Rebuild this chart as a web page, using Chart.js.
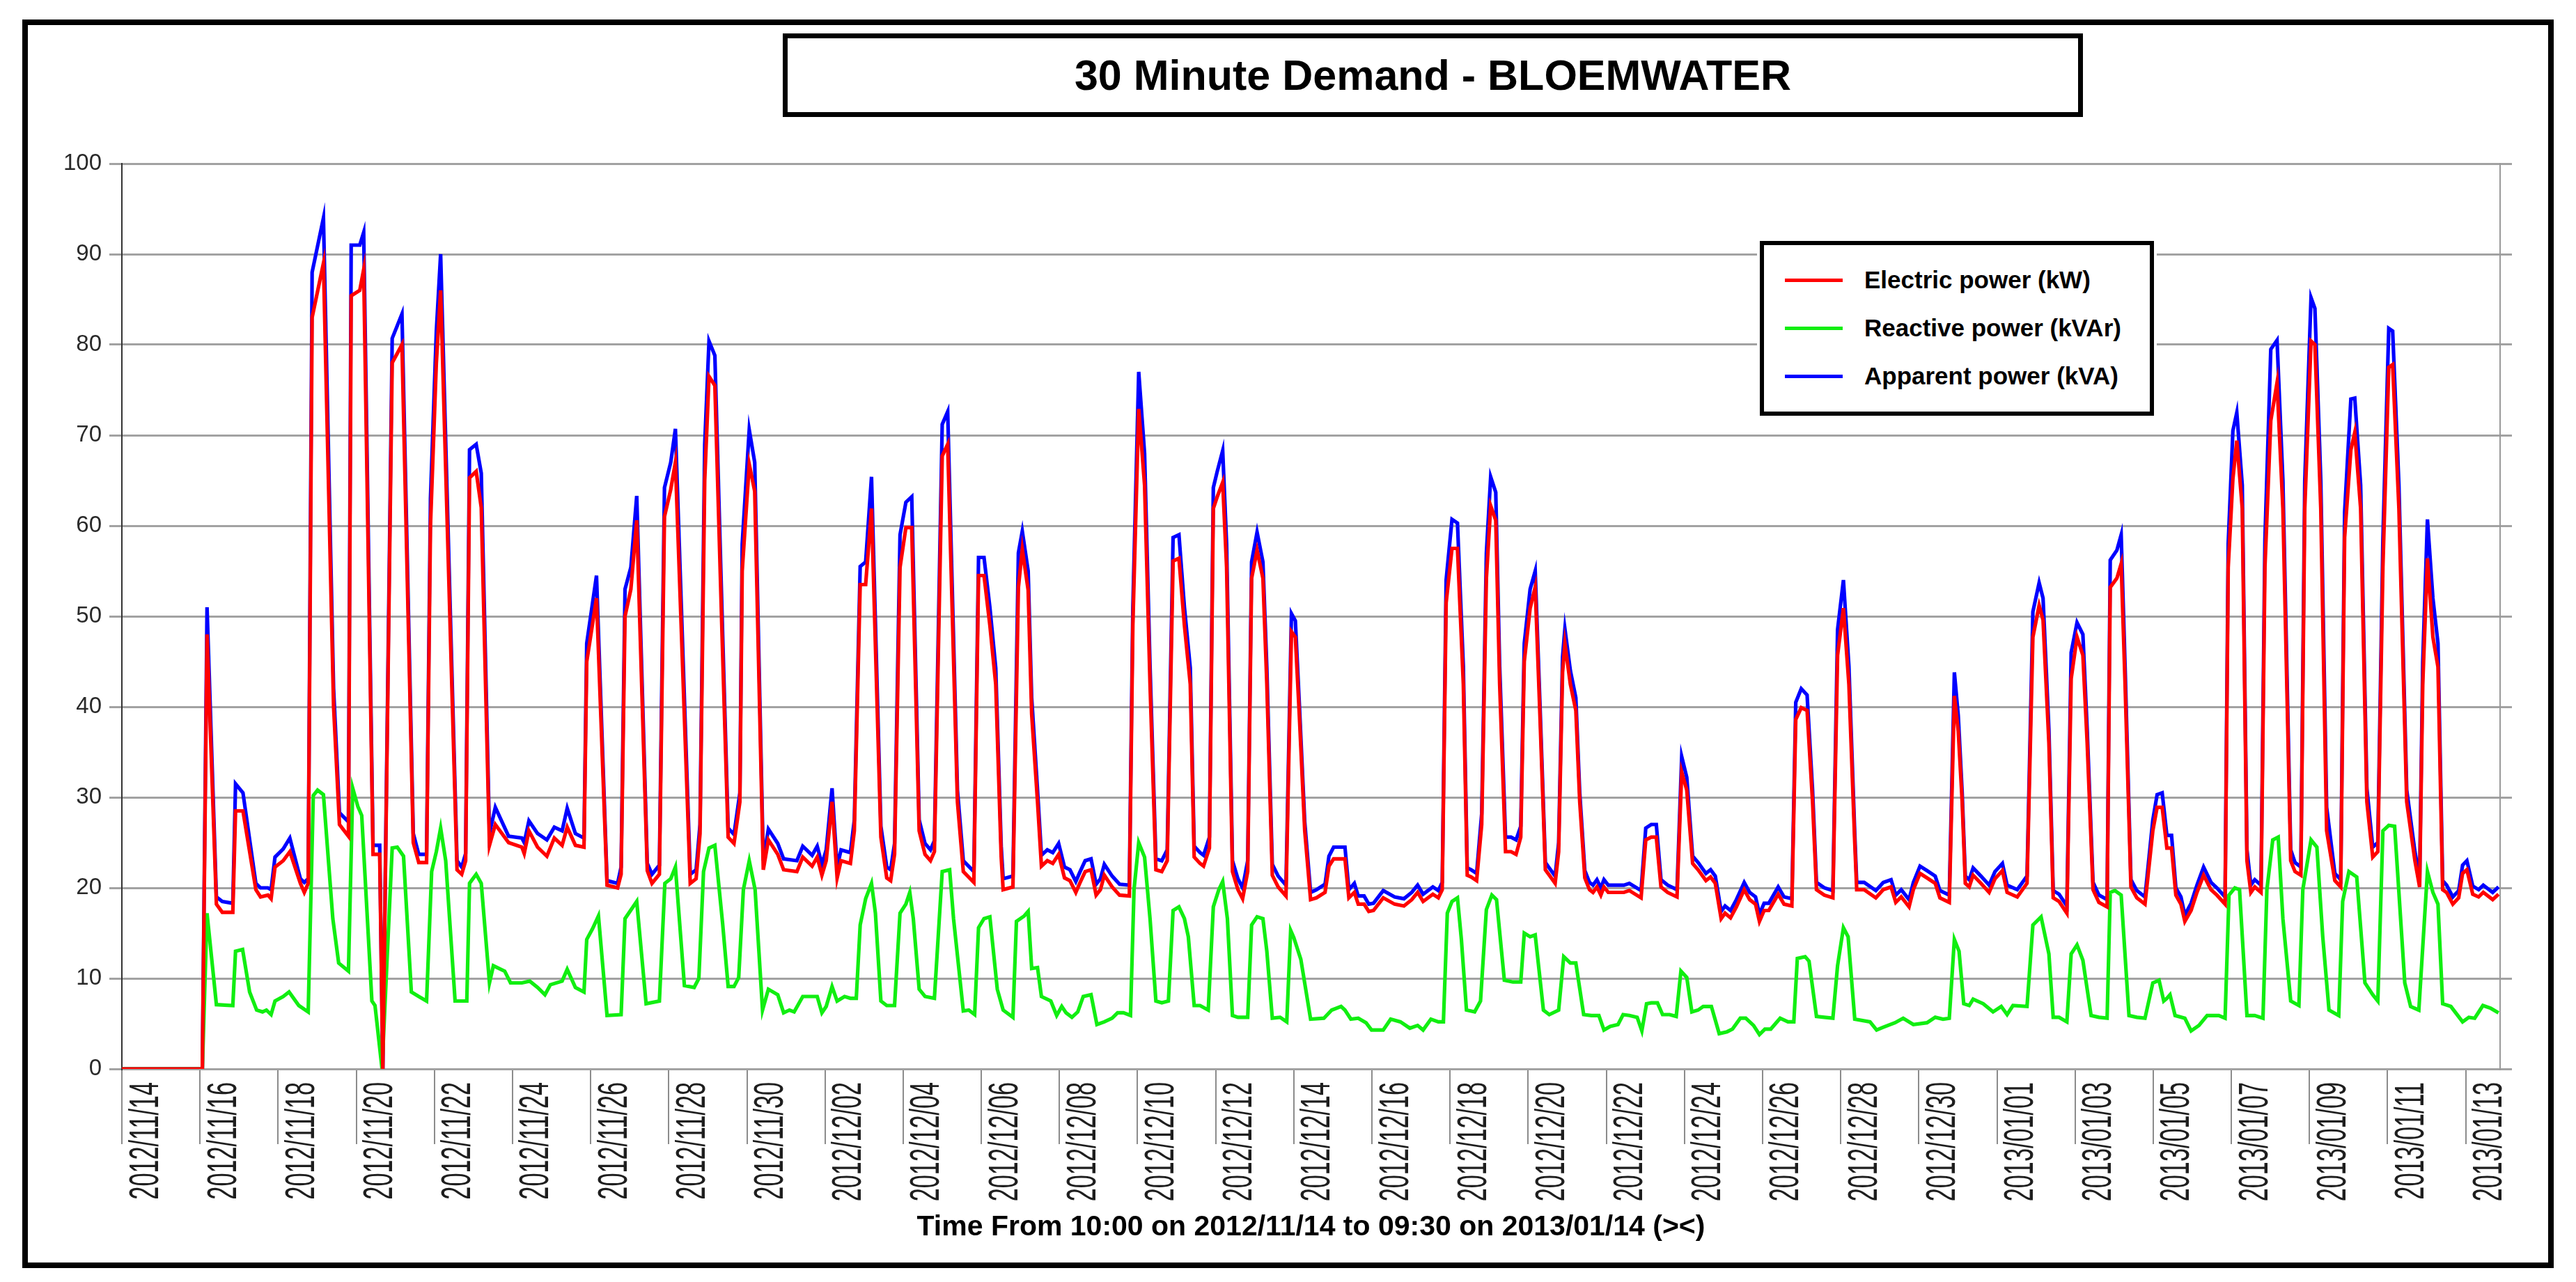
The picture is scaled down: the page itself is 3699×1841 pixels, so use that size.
<!DOCTYPE html>
<html>
<head>
<meta charset="utf-8">
<script src="https://cdn.jsdelivr.net/npm/chart.js@4.4.1/dist/chart.umd.min.js"></script>
<style>
  html, body { margin:0; padding:0; background:#fff; }
  body { width:3699px; height:1841px; position:relative; overflow:hidden; font-family:"Liberation Sans", Arial, sans-serif; }
  #c { position:absolute; left:0; top:0; }
  .frame { position:absolute; left:32px; top:28px; width:3635px; height:1793px; border:8px solid #000; box-sizing:border-box; pointer-events:none; }
  .title { position:absolute; left:1124px; top:48px; width:1867px; height:120px; border:7px solid #000; box-sizing:border-box; background:#fff;
           display:flex; align-items:center; justify-content:center; font-weight:bold; font-size:61px; color:#000; }
  .legend { position:absolute; left:2527px; top:346px; width:566px; height:251px; border:6px solid #000; box-sizing:border-box; background:#fff; outline:4px solid #fff; }
  .legend .row { position:absolute; left:0; height:0; }
  .legend .sw { position:absolute; left:30px; width:83px; height:5px; top:-2px; }
  .legend .tx { position:absolute; left:144px; top:-21px; font-weight:bold; font-size:35px; line-height:42px; white-space:nowrap; color:#000; }
</style>
</head>
<body>
<canvas id="c" width="3699" height="1841"></canvas>
<div class="title">30 Minute Demand - BLOEMWATER</div>
<div class="legend" id="legend"></div>
<div class="frame"></div>
<script>
// ============ DATA (x = days since 2012/11/14 00:00, y = value) ============
const dayTicks = [0,2,4,6,8,10,12,14,16,18,20,22,24,26,28,30,32,34,36,38,40,42,44,46,48,50,52,54,56,58,60];
const dateLabels = ['2012/11/14','2012/11/16','2012/11/18','2012/11/20','2012/11/22','2012/11/24','2012/11/26','2012/11/28','2012/11/30',
  '2012/12/02','2012/12/04','2012/12/06','2012/12/08','2012/12/10','2012/12/12','2012/12/14','2012/12/16','2012/12/18','2012/12/20',
  '2012/12/22','2012/12/24','2012/12/26','2012/12/28','2012/12/30','2013/01/01','2013/01/03','2013/01/05','2013/01/07','2013/01/09',
  '2013/01/11','2013/01/13'];
const yTicks = [0,10,20,30,40,50,60,70,80,90,100];

// Electric power (kW)
const electricPower = [
  [0,0],[2.06,0],[2.18,48],[2.42,18.2],[2.57,17.3],[2.84,17.3],[2.91,28.5],[3.1,28.5],[3.43,19.8],[3.55,19],[3.74,19.2],[3.82,18.8],
  [3.92,22.3],[4.13,23],[4.3,24],[4.57,20.5],[4.67,19.5],[4.77,20.5],[4.87,83],[5.16,89],[5.42,40],[5.57,27],[5.8,25.7],[5.87,85.4],
  [6.09,86],[6.19,88.3],[6.43,23.7],[6.6,23.7],[6.68,0],[6.92,78],[7.17,80],[7.46,25],[7.6,22.8],[7.8,22.8],[7.9,60],[8.05,78],
  [8.16,86],[8.58,22],[8.7,21.5],[8.8,23],[8.9,65.3],[9.07,66],[9.2,62],[9.41,24.7],[9.56,27],[9.9,25],[10.24,24.5],[10.3,23.8],
  [10.42,26.3],[10.64,24.5],[10.88,23.5],[11.07,25.5],[11.27,24.7],[11.4,26.7],[11.61,24.7],[11.83,24.5],[11.9,45],[12.15,52],
  [12.42,20.3],[12.69,20],[12.78,21.5],[12.88,50],[13.03,53],[13.18,60.6],[13.45,21.9],[13.57,20.5],[13.76,21.5],[13.89,61],
  [14.05,64],[14.17,67],[14.55,20.5],[14.7,21],[14.8,26],[14.92,65],[15.03,76.5],[15.18,75.5],[15.35,50],[15.52,25.6],[15.67,24.9],
  [15.82,29.5],[15.88,55],[16.06,66.8],[16.2,63.8],[16.42,22],[16.55,25.3],[16.79,23.7],[16.94,22],[17.28,21.8],[17.43,23.4],
  [17.67,22.4],[17.8,23.4],[17.92,21.4],[18.03,23],[18.18,29.5],[18.31,21.1],[18.41,23],[18.65,22.7],[18.75,26.3],[18.9,53.5],
  [19.04,53.5],[19.19,61.9],[19.43,25.6],[19.58,21.1],[19.68,20.8],[19.78,23.7],[19.92,55.4],[20.07,59.8],[20.22,59.8],[20.41,26.3],
  [20.56,23.7],[20.7,23],[20.8,24],[21.0,67.7],[21.14,69],[21.39,29.5],[21.54,21.8],[21.81,20.6],[21.93,54.5],[22.07,54.5],[22.22,49],
  [22.37,42.5],[22.51,23.4],[22.56,19.8],[22.81,20.1],[22.95,53.2],[23.05,57.4],[23.2,52.9],[23.29,39.2],[23.44,29.5],[23.54,22.4],
  [23.69,23],[23.83,22.7],[23.98,23.7],[24.13,21.1],[24.27,20.8],[24.42,19.5],[24.52,20.5],[24.66,21.8],[24.81,22],[24.94,19.2],
  [25.05,19.8],[25.15,21.4],[25.35,20.1],[25.54,19.2],[25.79,19.1],[25.88,49],[26.03,72.9],[26.18,64.5],[26.32,42.5],[26.47,22],
  [26.62,21.8],[26.76,23],[26.91,56.1],[27.06,56.4],[27.2,49],[27.35,42.5],[27.45,23.4],[27.6,22.7],[27.69,22.4],[27.84,24.4],
  [27.94,61.9],[28.04,63.2],[28.18,64.8],[28.28,55.4],[28.43,21.8],[28.57,19.8],[28.69,18.8],[28.82,21.8],[28.92,54.2],[29.06,57.3],
  [29.21,54.2],[29.31,42.5],[29.45,21.4],[29.6,20.1],[29.8,19.1],[29.94,48.3],[30.04,47.7],[30.14,39.2],[30.28,26.3],[30.43,18.7],
  [30.58,18.9],[30.8,19.5],[30.9,22.4],[31.02,23.2],[31.31,23.2],[31.41,18.9],[31.55,19.5],[31.65,18.2],[31.8,18.2],[31.92,17.4],
  [32.04,17.5],[32.29,18.9],[32.58,18.2],[32.82,18],[33.02,18.7],[33.17,19.5],[33.31,18.5],[33.56,19.3],[33.7,18.9],[33.8,19.8],
  [33.9,51.5],[34.05,57.5],[34.19,57.5],[34.34,42.5],[34.44,21.4],[34.54,21.2],[34.68,20.8],[34.81,27],[34.93,54.2],[35.04,62.2],
  [35.17,60.6],[35.27,42.5],[35.42,24],[35.56,24],[35.69,23.7],[35.81,25.6],[35.9,45],[36.05,50.9],[36.18,53.2],[36.3,39.2],
  [36.44,22],[36.54,21.4],[36.69,20.5],[36.78,24],[36.88,43.8],[36.94,47],[37.08,42.5],[37.22,39.6],[37.32,29.5],[37.45,21.1],
  [37.57,19.8],[37.66,19.5],[37.76,20.1],[37.86,19.2],[37.94,20.1],[38.05,19.5],[38.25,19.5],[38.45,19.5],[38.59,19.7],[38.74,19.3],
  [38.89,18.9],[39.01,25.3],[39.15,25.6],[39.28,25.6],[39.4,20.1],[39.57,19.5],[39.81,19],[39.93,32.8],[40.06,30.8],[40.21,22.7],
  [40.35,22],[40.55,20.8],[40.67,21.2],[40.79,20.5],[40.94,16.6],[41.04,17.2],[41.18,16.7],[41.33,17.9],[41.53,19.8],[41.67,18.7],
  [41.82,18.2],[41.92,16.3],[42.04,17.5],[42.16,17.5],[42.4,19.3],[42.55,18.2],[42.75,18],[42.85,38.6],[42.99,39.9],[43.14,39.6],
  [43.28,29.5],[43.38,19.8],[43.58,19.2],[43.8,18.9],[43.92,45.7],[44.07,50.9],[44.21,42.5],[44.36,25],[44.41,19.8],[44.6,19.8],
  [44.9,18.9],[45.09,19.8],[45.29,20.1],[45.41,18.4],[45.55,19],[45.75,17.9],[45.86,19.8],[46.03,21.6],[46.21,21.1],[46.42,20.5],
  [46.54,18.9],[46.78,18.4],[46.91,41.2],[47.01,37.3],[47.11,29.5],[47.19,20.5],[47.29,20.1],[47.39,21.4],[47.59,20.5],[47.8,19.5],
  [47.95,21],[48.14,21.9],[48.26,19.5],[48.52,19],[48.77,20.5],[48.92,47.7],[49.08,51.2],[49.18,49.6],[49.33,36],[49.44,18.9],
  [49.59,18.5],[49.79,17.2],[49.9,43.1],[50.05,47.7],[50.2,45.7],[50.31,36],[50.46,19.8],[50.61,18.4],[50.82,17.9],[50.9,53.2],
  [51.07,54.2],[51.18,55.8],[51.28,42.5],[51.43,20.1],[51.58,18.9],[51.79,18.2],[51.99,26.3],[52.1,28.9],[52.23,28.9],[52.35,24.4],
  [52.47,24.4],[52.58,19.2],[52.71,18.2],[52.81,16.3],[52.97,17.5],[53.12,19.5],[53.29,21.4],[53.48,19.8],[53.63,19.2],[53.84,18.2],
  [53.92,55.4],[54.04,65.2],[54.14,69.4],[54.28,61.9],[54.4,23],[54.5,19.5],[54.6,20.1],[54.76,19.5],[54.86,55.4],[55.01,71.6],
  [55.17,75.8],[55.32,61.9],[55.52,23],[55.63,21.8],[55.78,21.4],[55.88,61.9],[56.04,80.4],[56.14,80],[56.29,61.9],[56.44,26.3],
  [56.65,20.8],[56.8,20.1],[56.9,58.7],[57.06,68.4],[57.16,70.3],[57.31,61.9],[57.47,29.5],[57.62,23.4],[57.75,24],[57.88,55.4],
  [58.03,77.5],[58.13,77.8],[58.29,61.9],[58.49,29.5],[58.7,23],[58.82,20.1],[58.9,42.5],[59.02,56.4],[59.16,47.7],[59.29,44.4],
  [59.41,19.8],[59.51,19.5],[59.67,18.2],[59.82,18.9],[59.92,21.6],[60.03,22],[60.18,19.3],[60.33,19],[60.45,19.5],[60.69,18.7],
  [60.84,19.3]
];

// Reactive power (kVAr)
const reactivePower = [
  [0,0],[2.06,0],[2.18,17.2],[2.42,7.1],[2.84,7],[2.91,13],[3.09,13.2],[3.27,8.5],[3.45,6.5],[3.6,6.3],[3.7,6.5],[3.82,6],[3.92,7.5],
  [4.13,8],[4.28,8.5],[4.53,7],[4.77,6.3],[4.9,30.2],[5.01,30.8],[5.16,30.3],[5.4,16.6],[5.55,11.7],[5.8,10.8],[5.91,31],[6.04,29],
  [6.14,28],[6.4,7.5],[6.48,7],[6.66,0],[6.92,24.4],[7.05,24.5],[7.21,23.5],[7.41,8.5],[7.6,8],[7.8,7.5],[7.93,21.8],[8.05,24],
  [8.16,26.6],[8.29,23],[8.53,7.5],[8.83,7.5],[8.9,20.5],[9.07,21.5],[9.2,20.5],[9.41,9.5],[9.51,11.4],[9.8,10.8],[9.95,9.5],
  [10.24,9.5],[10.44,9.7],[10.64,9],[10.83,8.2],[10.97,9.3],[11.27,9.7],[11.4,11],[11.61,9],[11.83,8.5],[11.9,14.3],[12.05,15.5],
  [12.2,16.9],[12.42,5.9],[12.78,6],[12.88,16.6],[13.18,18.5],[13.42,7.2],[13.76,7.5],[13.9,20.5],[14.05,21],[14.17,22.3],[14.4,9.2],
  [14.65,9],[14.77,10],[14.89,21.8],[15.03,24.4],[15.18,24.7],[15.38,16],[15.52,9.1],[15.67,9.1],[15.79,10.1],[15.91,19.8],[16.06,23],
  [16.21,19.8],[16.4,6.5],[16.55,8.8],[16.79,8.2],[16.94,6.2],[17.09,6.5],[17.21,6.3],[17.43,8],[17.67,8],[17.8,8],[17.92,6.2],
  [18.03,6.9],[18.18,9.1],[18.31,7.5],[18.5,8],[18.65,7.8],[18.8,7.8],[18.9,15.9],[19.04,18.8],[19.19,20.5],[19.29,17.2],[19.43,7.5],
  [19.58,7],[19.78,7],[19.92,17.2],[20.07,18.2],[20.17,19.5],[20.26,16.6],[20.41,8.8],[20.56,8],[20.8,7.8],[21.0,21.8],[21.19,22],
  [21.29,16.6],[21.54,6.4],[21.68,6.5],[21.83,6],[21.93,15.6],[22.07,16.6],[22.22,16.8],[22.41,8.8],[22.56,6.5],[22.81,5.7],[22.9,16.3],
  [23.1,16.9],[23.2,17.4],[23.29,11.1],[23.44,11.2],[23.54,8],[23.78,7.5],[23.93,5.9],[24.06,6.9],[24.17,6.2],[24.32,5.7],[24.47,6.3],
  [24.61,8],[24.81,8.2],[24.96,4.9],[25.15,5.2],[25.35,5.6],[25.49,6.2],[25.64,6.2],[25.82,5.9],[25.91,19.8],[26.03,25],[26.18,23.4],
  [26.32,16.6],[26.47,7.5],[26.62,7.3],[26.79,7.5],[26.91,17.5],[27.06,17.9],[27.2,16.6],[27.3,14.6],[27.45,7],[27.6,7],[27.81,6.5],
  [27.94,17.9],[28.08,19.8],[28.18,20.7],[28.3,16.6],[28.43,5.9],[28.57,5.7],[28.82,5.7],[28.92,15.9],[29.06,16.8],[29.21,16.6],
  [29.31,13],[29.45,5.6],[29.65,5.7],[29.82,5.2],[29.92,15.3],[30.0,14.5],[30.18,12.1],[30.43,5.5],[30.77,5.6],[30.97,6.5],[31.21,6.9],
  [31.31,6.5],[31.46,5.5],[31.65,5.6],[31.85,5.1],[31.99,4.3],[32.29,4.3],[32.48,5.5],[32.73,5.2],[32.97,4.5],[33.17,4.8],[33.31,4.3],
  [33.51,5.5],[33.7,5.2],[33.83,5.2],[33.93,17.2],[34.05,18.5],[34.19,18.9],[34.29,14.3],[34.42,6.5],[34.63,6.3],[34.78,7.5],
  [34.93,17.6],[35.07,19.2],[35.19,18.7],[35.39,9.8],[35.61,9.6],[35.81,9.6],[35.9,15],[36.05,14.6],[36.18,14.8],[36.39,6.5],
  [36.54,6],[36.78,6.5],[36.91,12.4],[37.08,11.7],[37.22,11.7],[37.42,6],[37.62,5.9],[37.81,5.9],[37.94,4.3],[38.1,4.7],[38.3,4.9],
  [38.43,6],[38.59,5.9],[38.79,5.7],[38.91,4.2],[39.03,7.2],[39.15,7.3],[39.31,7.3],[39.44,6],[39.62,6],[39.79,5.8],[39.91,10.8],
  [40.06,10.1],[40.19,6.3],[40.35,6.5],[40.48,6.9],[40.69,6.9],[40.89,3.9],[41.09,4.1],[41.23,4.4],[41.43,5.6],[41.57,5.6],[41.77,4.8],
  [41.92,3.8],[42.06,4.4],[42.21,4.4],[42.45,5.6],[42.65,5.2],[42.8,5.2],[42.89,12.2],[43.09,12.4],[43.19,11.9],[43.38,5.8],[43.58,5.7],
  [43.8,5.6],[43.92,11.4],[44.07,15.6],[44.19,14.6],[44.36,5.5],[44.75,5.2],[44.92,4.3],[45.09,4.6],[45.39,5.1],[45.6,5.6],[45.86,4.9],
  [46.21,5.1],[46.42,5.7],[46.62,5.5],[46.78,5.6],[46.91,14.3],[47.03,13],[47.15,7.2],[47.29,7],[47.39,7.7],[47.65,7.2],[47.9,6.3],
  [48.11,6.9],[48.26,6],[48.41,7],[48.77,6.9],[48.92,15.9],[49.13,16.8],[49.33,12.7],[49.44,5.7],[49.59,5.7],[49.79,5.2],[49.9,12.7],
  [50.05,13.7],[50.2,12],[50.41,5.9],[50.61,5.7],[50.82,5.6],[50.9,19.5],[51.02,19.7],[51.18,19.2],[51.38,5.9],[51.58,5.7],[51.79,5.6],
  [51.99,9.5],[52.15,9.8],[52.27,7.5],[52.35,7.8],[52.43,8.2],[52.56,5.9],[52.81,5.6],[52.97,4.2],[53.17,4.8],[53.38,5.9],[53.68,5.9],
  [53.84,5.6],[53.94,19.2],[54.09,20],[54.21,19.8],[54.4,5.9],[54.6,5.9],[54.81,5.6],[54.91,19.8],[55.06,25.3],[55.2,25.6],[55.32,16.6],
  [55.52,7.5],[55.73,7],[55.83,19.8],[56.04,25.3],[56.19,24.5],[56.34,14.6],[56.5,6.5],[56.75,5.9],[56.85,18.5],[57.01,21.8],
  [57.21,21.2],[57.42,9.5],[57.62,8.2],[57.75,7.5],[57.88,26.3],[58.03,26.9],[58.18,26.8],[58.44,9.5],[58.59,6.9],[58.8,6.5],
  [59.02,21.8],[59.16,19.5],[59.29,18.2],[59.41,7.2],[59.62,6.9],[59.92,5.2],[60.08,5.7],[60.23,5.6],[60.44,7],[60.64,6.7],[60.84,6.2]
];

// Apparent power (kVA)
const apparentPower = [
  [0,0],[2.06,0],[2.18,51],[2.42,19],[2.57,18.5],[2.84,18.3],[2.91,31.5],[3.1,30.5],[3.43,20.5],[3.55,20],[3.74,20],[3.82,19.8],
  [3.92,23.4],[4.13,24.3],[4.3,25.5],[4.57,21],[4.67,20.6],[4.77,21],[4.87,88],[5.16,94],[5.42,42],[5.57,28.3],[5.8,27.3],[5.87,91],
  [6.09,91],[6.19,92.4],[6.43,24.7],[6.6,24.7],[6.68,0],[6.92,80.7],[7.17,83.4],[7.46,26],[7.6,23.7],[7.8,23.7],[7.9,63],[8.05,81.5],
  [8.16,90],[8.58,23],[8.7,22.3],[8.8,23.8],[8.9,68.4],[9.07,69],[9.2,65.8],[9.41,26],[9.56,28.9],[9.9,25.7],[10.24,25.5],[10.3,25],
  [10.42,27.4],[10.64,26],[10.88,25.3],[11.07,26.7],[11.27,26.3],[11.4,28.8],[11.61,26],[11.83,25.5],[11.9,47],[12.15,54.5],
  [12.42,20.8],[12.69,20.5],[12.78,22.3],[12.88,53],[13.03,55.4],[13.18,63.3],[13.45,22.7],[13.57,21.5],[13.76,22.5],[13.89,64.2],
  [14.05,67],[14.17,70.7],[14.55,21.5],[14.7,22],[14.8,27],[14.92,69],[15.03,80.4],[15.18,78.8],[15.35,52.5],[15.52,26.6],[15.67,25.9],
  [15.82,30.5],[15.88,58],[16.06,70.6],[16.2,67],[16.42,23],[16.55,26.5],[16.79,24.9],[16.94,23.2],[17.28,23],[17.43,24.6],
  [17.67,23.6],[17.8,24.6],[17.92,22.6],[18.03,24.2],[18.18,31],[18.31,22.3],[18.41,24.2],[18.65,23.9],[18.75,27.5],[18.9,55.5],
  [19.04,56],[19.19,65.4],[19.43,26.8],[19.58,22.3],[19.68,22],[19.78,24.9],[19.92,59],[20.07,62.6],[20.22,63.2],[20.41,27.5],
  [20.56,24.9],[20.7,24.2],[20.8,25.2],[21.0,71.2],[21.14,72.6],[21.39,30.8],[21.54,23],[21.81,21.8],[21.93,56.5],[22.07,56.5],[22.22,51],
  [22.37,44.3],[22.51,24.6],[22.56,21],[22.81,21.3],[22.95,57],[23.05,59.4],[23.2,55],[23.29,41],[23.44,30.8],[23.54,23.6],
  [23.69,24.2],[23.83,23.9],[23.98,24.9],[24.13,22.3],[24.27,22],[24.42,20.7],[24.52,21.7],[24.66,23],[24.81,23.2],[24.94,20.4],
  [25.05,21],[25.15,22.6],[25.35,21.3],[25.54,20.4],[25.79,20.3],[25.88,51],[26.03,77],[26.18,68],[26.32,44.5],[26.47,23.2],
  [26.62,23],[26.76,24.2],[26.91,58.7],[27.06,59],[27.2,51],[27.35,44.3],[27.45,24.6],[27.6,23.9],[27.69,23.6],[27.84,25.6],
  [27.94,64.2],[28.04,66],[28.18,68.3],[28.28,58],[28.43,23],[28.57,21],[28.69,20],[28.82,23],[28.92,56],[29.06,59.3],
  [29.21,56],[29.31,44.3],[29.45,22.6],[29.6,21.3],[29.8,20.3],[29.94,50.3],[30.04,49.5],[30.14,40.5],[30.28,27.3],[30.43,19.5],
  [30.58,19.8],[30.8,20.4],[30.9,23.5],[31.02,24.5],[31.31,24.5],[31.41,19.8],[31.55,20.5],[31.65,19.1],[31.8,19.1],[31.92,18.2],
  [32.04,18.3],[32.29,19.7],[32.58,19],[32.82,18.8],[33.02,19.5],[33.17,20.3],[33.31,19.3],[33.56,20.1],[33.7,19.7],[33.8,20.6],
  [33.9,54],[34.05,60.7],[34.19,60.3],[34.34,44.5],[34.44,22.2],[34.54,22],[34.68,21.6],[34.81,28.2],[34.93,57],[35.04,65.4],
  [35.17,63.7],[35.27,44.5],[35.42,25.6],[35.56,25.6],[35.69,25.3],[35.81,26.8],[35.9,47],[36.05,53],[36.18,55],[36.3,40.5],
  [36.44,22.8],[36.54,22.2],[36.69,21.3],[36.78,25],[36.88,45.5],[36.94,48.6],[37.08,44],[37.22,41],[37.32,30.5],[37.45,21.9],
  [37.57,20.6],[37.66,20.3],[37.76,20.9],[37.86,20],[37.94,20.9],[38.05,20.3],[38.25,20.3],[38.45,20.3],[38.59,20.5],[38.74,20.1],
  [38.89,19.7],[39.01,26.6],[39.15,27],[39.28,27],[39.4,20.9],[39.57,20.3],[39.81,19.8],[39.93,34.5],[40.06,32.2],[40.21,23.5],
  [40.35,22.8],[40.55,21.6],[40.67,22],[40.79,21.3],[40.94,17.4],[41.04,18],[41.18,17.5],[41.33,18.7],[41.53,20.6],[41.67,19.5],
  [41.82,19],[41.92,17.1],[42.04,18.3],[42.16,18.3],[42.4,20.1],[42.55,19],[42.75,18.8],[42.85,40.5],[42.99,42],[43.14,41.3],
  [43.28,30.8],[43.38,20.6],[43.58,20],[43.8,19.7],[43.92,48.5],[44.07,54],[44.21,44.5],[44.36,26],[44.41,20.6],[44.6,20.6],
  [44.9,19.7],[45.09,20.6],[45.29,20.9],[45.41,19.2],[45.55,19.8],[45.75,18.7],[45.86,20.6],[46.03,22.4],[46.21,21.9],[46.42,21.3],
  [46.54,19.7],[46.78,19.2],[46.91,43.8],[47.01,39],[47.11,30.5],[47.19,21.3],[47.29,20.9],[47.39,22.2],[47.59,21.3],[47.8,20.3],
  [47.95,21.8],[48.14,22.7],[48.26,20.3],[48.52,19.8],[48.77,21.3],[48.92,50.5],[49.08,53.7],[49.18,52],[49.33,37.5],[49.44,19.7],
  [49.59,19.3],[49.79,18],[49.9,46],[50.05,49.3],[50.2,48],[50.31,37.5],[50.46,20.6],[50.61,19.2],[50.82,18.7],[50.9,56.2],
  [51.07,57.3],[51.18,59],[51.28,44.5],[51.43,20.9],[51.58,19.7],[51.79,19],[51.99,27.5],[52.1,30.3],[52.23,30.5],[52.35,25.8],
  [52.47,25.8],[52.58,20],[52.71,19],[52.81,17],[52.97,18.3],[53.12,20.3],[53.29,22.3],[53.48,20.6],[53.63,20],[53.84,19],
  [53.92,58],[54.04,70.5],[54.14,72.5],[54.28,64.5],[54.4,24.2],[54.5,20.3],[54.6,20.9],[54.76,20.3],[54.86,58.5],[55.01,79.5],
  [55.17,80.5],[55.32,65],[55.52,24.2],[55.63,22.8],[55.78,22.3],[55.88,65],[56.04,85.2],[56.14,84],[56.29,65],[56.44,28.9],
  [56.65,21.6],[56.8,20.9],[56.9,61.5],[57.06,74],[57.16,74.1],[57.31,64.5],[57.47,31],[57.62,24.5],[57.75,25],[57.88,58.5],
  [58.03,81.8],[58.13,81.5],[58.29,64.5],[58.49,30.8],[58.7,24],[58.82,21],[58.9,45],[59.02,60.7],[59.16,52],[59.29,47],
  [59.41,20.8],[59.51,20.3],[59.67,19],[59.82,19.7],[59.92,22.5],[60.03,23],[60.18,20.2],[60.33,19.8],[60.45,20.3],[60.69,19.5],
  [60.84,20.1]
];

const seriesNames = ['Electric power (kW)', 'Reactive power (kVAr)', 'Apparent power (kVA)'];
const seriesColors = ['#ff0000', '#11ee11', '#0000ff'];
const axisTitle = 'Time From 10:00 on 2012/11/14 to 09:30 on 2013/01/14 (><)';

// ============ LEGEND (html) ============
const legendRows = [50, 119, 188];
const lg = document.getElementById('legend');
seriesNames.forEach((name, i) => {
  const row = document.createElement('div');
  row.className = 'row';
  row.style.top = legendRows[i] + 'px';
  row.innerHTML = `<div class="sw" style="background:${seriesColors[i]}"></div><div class="tx">${name}</div>`;
  lg.appendChild(row);
});

// ============ X TICK LABELS (rotated, squeezed like the original) ============
const dateLabelPlugin = {
  id: 'dateLabels',
  afterDraw(chart) {
    const xs = chart.scales.x, ctx = chart.ctx;
    ctx.save();
    ctx.fillStyle = '#1e1e1e';
    ctx.font = '60px "Liberation Sans", Arial, sans-serif';
    ctx.textAlign = 'right';
    ctx.textBaseline = 'middle';
    xs.ticks.forEach((t, i) => {
      const x = xs.getPixelForValue(t.value) + 35;
      ctx.save();
      ctx.translate(x, xs.top + 19);
      ctx.rotate(-Math.PI / 2);
      ctx.scale(0.57, 1);
      ctx.fillText(dateLabels[i], 0, 0);
      ctx.restore();
    });
    ctx.restore();
  }
};

const toXY = arr => arr.map(p => ({x: p[0], y: p[1]}));
const gridGray = '#a2a2a2';

new Chart(document.getElementById('c'), {
  type: 'line',
  data: {
    datasets: [
      {label: seriesNames[0], data: toXY(electricPower), borderColor: seriesColors[0], borderWidth: 5.2, pointRadius: 0, tension: 0},
      {label: seriesNames[1], data: toXY(reactivePower), borderColor: seriesColors[1], borderWidth: 5.2, pointRadius: 0, tension: 0},
      {label: seriesNames[2], data: toXY(apparentPower), borderColor: seriesColors[2], borderWidth: 5.2, pointRadius: 0, tension: 0},
    ]
  },
  options: {
    responsive: false, animation: false, devicePixelRatio: 1,
    layout: {padding: {top: 235, left: 0, right: 0, bottom: 0}},
    plugins: {legend: {display: false}, title: {display: false}, tooltip: {enabled: false}},
    scales: {
      x: {
        type: 'linear', position: 'bottom', min: 0, max: 60.88,
        afterBuildTicks: s => { s.ticks = dayTicks.map(v => ({value: v})); },
        afterFit: s => { s.height = 306; },
        ticks: {display: false},
        grid: {drawOnChartArea: false, drawTicks: true, tickLength: 108, color: '#8c8c8c', lineWidth: 2},
        border: {display: false},
        title: {display: true, text: axisTitle, color: '#000',
                font: {family: '"Liberation Sans", Arial, sans-serif', size: 41, weight: 'bold'},
                padding: {top: 0, bottom: 54}}
      },
      y: {
        position: 'left', min: 0, max: 100,
        afterBuildTicks: s => { s.ticks = yTicks.map(v => ({value: v})); },
        afterFit: s => { s.width = 175; },
        ticks: {color: '#2a2a2a', padding: 11, font: {family: '"Liberation Sans", Arial, sans-serif', size: 33}},
        grid: {color: gridGray, lineWidth: 3, tickLength: 18},
        border: {display: true, color: '#333', width: 2}
      },
      y2: {
        position: 'right', min: 0, max: 100,
        afterBuildTicks: s => { s.ticks = yTicks.map(v => ({value: v})); },
        afterFit: s => { s.width = 109; },
        ticks: {display: false},
        grid: {drawOnChartArea: false, color: gridGray, lineWidth: 3, tickLength: 17},
        border: {display: true, color: '#9a9a9a', width: 2}
      }
    }
  },
  plugins: [dateLabelPlugin]
});
</script>
</body>
</html>
